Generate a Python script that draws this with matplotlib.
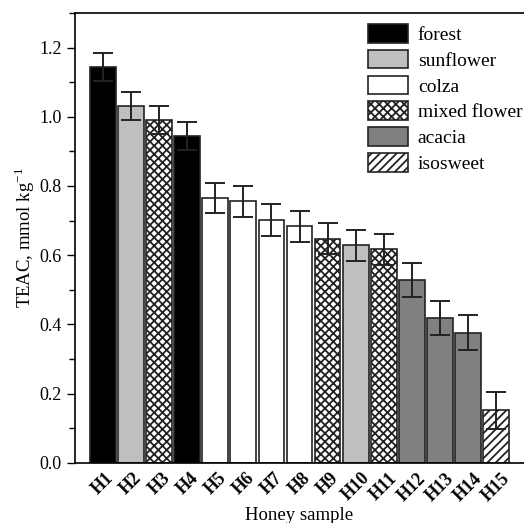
import numpy as np
import matplotlib.pyplot as plt
from matplotlib.patches import Patch
from matplotlib.ticker import MultipleLocator

plt.rcParams['font.family'] = ['Liberation Serif', 'DejaVu Serif']
plt.rcParams['mathtext.fontset'] = 'custom'
plt.rcParams['mathtext.rm'] = 'Liberation Serif'
plt.rcParams['hatch.linewidth'] = 1.3

samples = ['H1', 'H2', 'H3', 'H4', 'H5', 'H6', 'H7', 'H8', 'H9', 'H10',
           'H11', 'H12', 'H13', 'H14', 'H15']
teac = [1.144, 1.031, 0.990, 0.944, 0.766, 0.756, 0.701, 0.684, 0.648, 0.628,
        0.617, 0.528, 0.418, 0.376, 0.151]
err = [0.040, 0.040, 0.041, 0.041, 0.044, 0.045, 0.046, 0.045, 0.046, 0.046,
       0.045, 0.049, 0.050, 0.050, 0.053]
kind = ['forest', 'sunflower', 'mixed flower', 'forest', 'colza', 'colza', 'colza',
        'colza', 'mixed flower', 'sunflower', 'mixed flower', 'acacia', 'acacia',
        'acacia', 'isosweet']

legend_order = ['forest', 'sunflower', 'colza', 'mixed flower', 'acacia', 'isosweet']
styles = {
    'forest': dict(facecolor='black', hatch=None),
    'sunflower': dict(facecolor='#bfbfbf', hatch=None),
    'colza': dict(facecolor='white', hatch=None),
    'mixed flower': dict(facecolor='white', hatch='xxxx'),
    'acacia': dict(facecolor='#808080', hatch=None),
    'isosweet': dict(facecolor='white', hatch='////'),
}

fig = plt.figure(figsize=(5.24, 5.23), dpi=100)
ax = fig.add_axes([75 / 524, 1 - 462.7 / 523, 1 - 75 / 524, (462.7 - 13) / 523])

x = np.arange(1, len(samples) + 1)
for i in range(len(samples)):
    st = styles[kind[i]]
    ax.bar(x[i], teac[i], width=0.92, facecolor=st['facecolor'], hatch=st['hatch'],
           edgecolor='#222222', linewidth=1.2, zorder=2)
ax.errorbar(x, teac, yerr=err, fmt='none', ecolor='#222222', elinewidth=1.4,
            capsize=7, capthick=1.4, zorder=3)

ax.set_xlim(0, 16)
ax.set_ylim(0, 1.3)
ax.yaxis.set_major_locator(MultipleLocator(0.2))
ax.yaxis.set_minor_locator(MultipleLocator(0.1))
ax.yaxis.set_major_formatter(plt.FuncFormatter(lambda v, p: f'{v:.1f}'))
ax.tick_params(axis='y', which='major', direction='out', length=6, width=1, labelsize=13)
ax.tick_params(axis='y', which='minor', direction='out', length=4, width=1)
ax.set_xticks(x)
ax.set_xticklabels(samples, rotation=45, fontweight='bold', fontsize=13, ha='center')
ax.tick_params(axis='x', length=0, pad=5)
ax.spines['right'].set_visible(False)
for s in ['left', 'top', 'bottom']:
    ax.spines[s].set_linewidth(1.2)

ax.set_xlabel('Honey sample', fontsize=13.5, labelpad=2)
ax.set_ylabel('TEAC, mmol kg$^{-1}$', fontsize=13.5, labelpad=1.5)

handles = [Patch(facecolor=styles[k]['facecolor'], hatch=styles[k]['hatch'],
                 edgecolor='#222222', linewidth=1.2, label=k) for k in legend_order]
ax.legend(handles=handles, loc='upper left', frameon=False, fontsize=14,
          handlelength=2.06, handleheight=1.1, labelspacing=0.3, handletextpad=0.5,
          borderpad=0, borderaxespad=0, bbox_to_anchor=((368 - 75) / 449, (462.7 - 24) / 449.7))

fig.savefig('out.png', dpi=100)
